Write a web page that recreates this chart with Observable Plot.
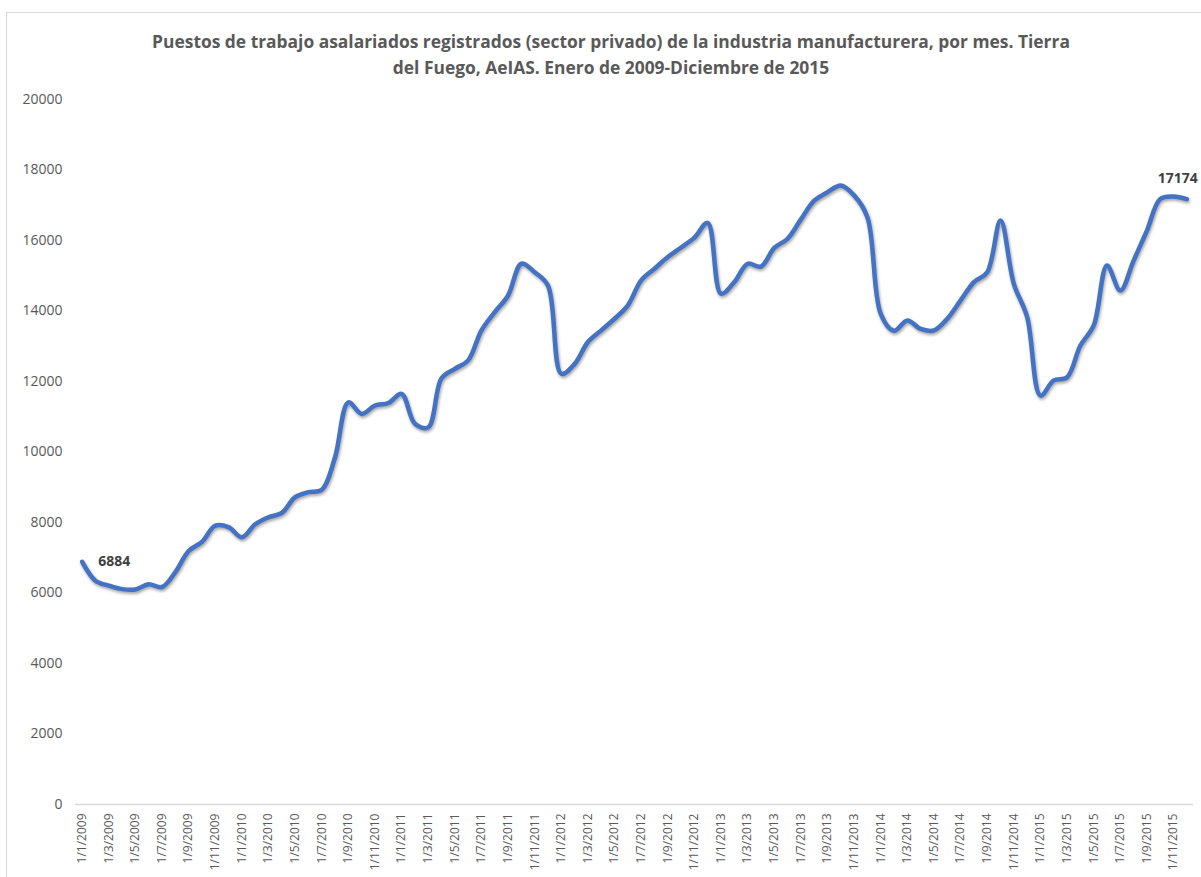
<!DOCTYPE html>
<html>
<head>
<meta charset="utf-8">
<script src="https://cdn.jsdelivr.net/npm/d3@7"></script>
<script src="https://cdn.jsdelivr.net/npm/@observablehq/plot@0.6"></script>
<style>
  html, body { margin: 0; padding: 0; background: #fff; overflow: hidden; width: 1201px; height: 877px; }
  #frame { position: absolute; left: 6px; top: 12px; width: 1400px; height: 1000px; border: 1px solid #d9d9d9; box-sizing: border-box; }
  #title { position: relative; width: 1222px; padding-top: 28px; height: 52px; text-align: center; font-family: "Open Sans", sans-serif; font-weight: 700; font-size: 17.4px; line-height: 26px; color: #595959; white-space: nowrap; }
  #chart { position: relative; }
  #chart svg g[aria-label="line"] path { filter: drop-shadow(1px 2px 1.5px rgba(0,0,0,0.35)); }
</style>
</head>
<body>
<div id="frame"></div>
<div id="title">Puestos de trabajo asalariados registrados (sector privado) de la industria manufacturera, por mes. Tierra<br>del Fuego, AeIAS. Enero de 2009-Diciembre de 2015</div>
<div id="chart"></div>
<script>
// Categories: months Jan 2009 - Dec 2015 (d/m/yyyy labels)
const years = [2009, 2010, 2011, 2012, 2013, 2014, 2015];
const monthNums = [1, 2, 3, 4, 5, 6, 7, 8, 9, 10, 11, 12];
const months = years.flatMap(y => monthNums.map(m => `1/${m}/${y}`));

// Series values
const puestos = [
  6884, 6350, 6210, 6110, 6100, 6250, 6170, 6590, 7190, 7450, 7910, 7870,
  7580, 7950, 8150, 8270, 8720, 8860, 8930, 9850, 11410, 11080, 11320, 11390,
  11650, 10800, 10700, 12090, 12360, 12600, 13450, 13970, 14440, 15340, 15100, 14720,
  12220, 12500, 13120, 13450, 13780, 14160, 14870, 15200, 15530, 15800, 16080, 16500,
  14490, 14820, 15340, 15260, 15790, 16050, 16600, 17130, 17370, 17560, 17280, 16660,
  13920, 13440, 13730, 13490, 13450, 13780, 14300, 14820, 15100, 16570, 14770, 13830,
  11600, 12030, 12120, 13020, 13590, 15290, 14580, 15430, 16280, 17180, 17250, 17174
];

// Tick labels
const xTicks = months.filter((_, i) => i % 2 === 0);
const yTicks = [0, 2000, 4000, 6000, 8000, 10000, 12000, 14000, 16000, 18000, 20000];

const data = months.map((m, i) => ({ mes: m, valor: puestos[i] }));
const firstPt = [data[0]];
const lastPt = [data[data.length - 1]];

const chart = Plot.plot({
  width: 1201,
  height: 797,
  marginTop: 19,
  marginBottom: 73,
  marginLeft: 75,
  marginRight: 8,
  style: { fontFamily: "'Open Sans', sans-serif", color: "#595959", background: "transparent", overflow: "visible" },
  x: { type: "point", domain: months, padding: 0.5, round: false, label: null },
  y: { domain: [0, 20000], label: null },
  marks: [
    Plot.ruleY([0], { stroke: "#d9d9d9", strokeWidth: 1.5 }),
    Plot.axisY({ ticks: yTicks, tickSize: 0, tickPadding: 13, tickFormat: d => String(d), fontSize: 14, fill: "#595959", label: null }),
    Plot.axisX({ ticks: xTicks, tickSize: 0, tickPadding: 9, tickRotate: -90, fontSize: 12, fill: "#595959", label: null }),
    Plot.line(data, { x: "mes", y: "valor", stroke: "#4472C4", strokeWidth: 4.5, curve: "catmull-rom" }),
    Plot.text(firstPt, { x: "mes", y: "valor", text: d => String(d.valor), dx: 16, textAnchor: "start", fontWeight: "bold", fontSize: 14, fill: "#404040" }),
    Plot.text(lastPt, { x: "mes", y: "valor", text: d => String(d.valor), dx: 11, dy: -21, textAnchor: "end", fontWeight: "bold", fontSize: 14, fill: "#404040" })
  ]
});
document.getElementById("chart").appendChild(chart);
</script>
</body>
</html>
